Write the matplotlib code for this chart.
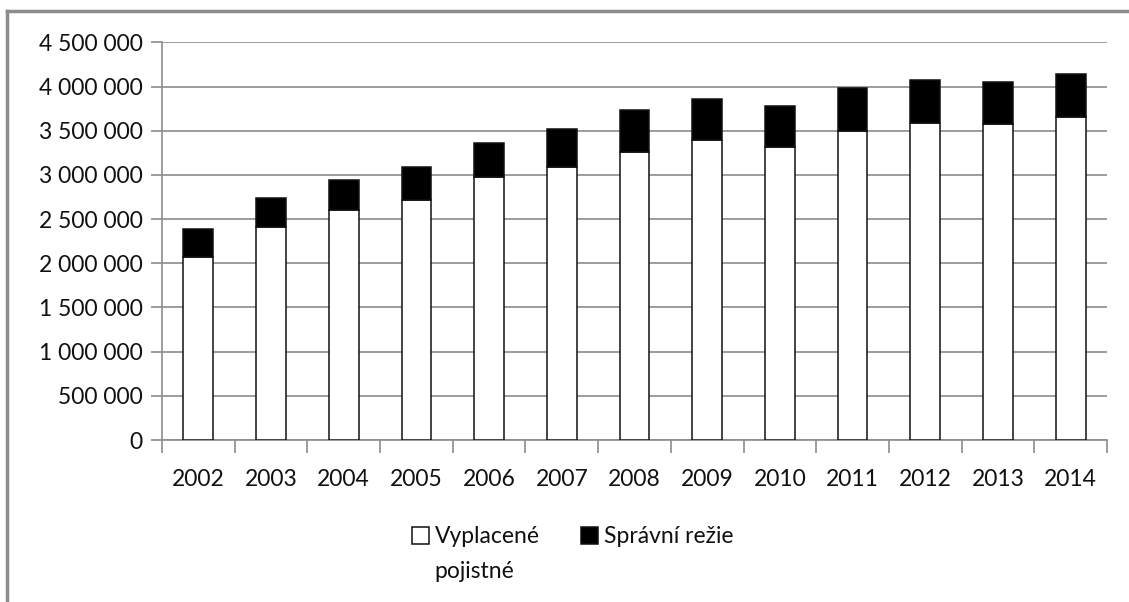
import matplotlib
matplotlib.use("Agg")
import matplotlib.pyplot as plt
from matplotlib.ticker import FuncFormatter, FixedLocator
from matplotlib.lines import Line2D
import numpy as np

# data
years = ["2002", "2003", "2004", "2005", "2006", "2007", "2008",
         "2009", "2010", "2011", "2012", "2013", "2014"]
vyplacene = [2069000, 2415000, 2601000, 2717000, 2977000, 3094000, 3260000,
             3395000, 3320000, 3501000, 3588000, 3573000, 3652000]
celkem = [2386000, 2743000, 2940000, 3090000, 3358000, 3523000, 3735000,
          3856000, 3783000, 3980000, 4070000, 4055000, 4145000]
rezie = [c - v for c, v in zip(celkem, vyplacene)]

plt.rcParams['font.family'] = ['Lato', 'DejaVu Sans']
fs = 16.5
tc = "#111111"

fig = plt.figure(figsize=(11.29, 6.02), dpi=100)
ax = fig.add_axes([0.1435, 0.2691, 0.837, 0.6606])

x = np.arange(len(years))
w = 0.41
ax.bar(x, vyplacene, w, color="white", edgecolor="#111111", linewidth=1.1,
       label="Vyplacené", zorder=3)
ax.bar(x, rezie, w, bottom=vyplacene, color="black", edgecolor="#111111",
       linewidth=1.1, label="Správní režie", zorder=3)

ax.set_xlim(-0.5, len(years) - 0.5)
ax.set_ylim(0, 4500000)
ax.set_yticks(np.arange(0, 4500001, 500000))
ax.yaxis.set_major_formatter(FuncFormatter(lambda v, p: f"{int(v):,}".replace(",", " ")))
ax.yaxis.grid(True, color="#8c8c8c", linewidth=1.2, zorder=0)

# category labels, ticks between categories
ax.set_xticks(x)
ax.set_xticklabels(years)
ax.tick_params(axis="x", length=0, labelsize=fs, pad=21, colors=tc)
ax.xaxis.set_minor_locator(FixedLocator(np.arange(-0.5, len(years), 1)))
ax.tick_params(axis="x", which="minor", length=9, width=1.2, color="#8c8c8c", direction="out")
ax.tick_params(axis="y", length=8, width=1.2, color="#8c8c8c", labelsize=fs, pad=6,
               labelcolor=tc)

for s in ["top", "right"]:
    ax.spines[s].set_visible(False)
for s in ["left", "bottom"]:
    ax.spines[s].set_color("#8c8c8c")
    ax.spines[s].set_linewidth(1.2)

leg = fig.legend(loc="upper center", bbox_to_anchor=(0.507, 0.16), ncol=2, frameon=False,
                 fontsize=fs, handlelength=0.75, handleheight=0.75, handletextpad=0.25,
                 columnspacing=1.8, labelcolor=tc)

# second line of the first legend label, under "Vyplacené"
fig.canvas.draw()
bb = leg.get_texts()[0].get_window_extent().transformed(fig.transFigure.inverted())
fig.text(bb.x0, bb.y0 - 0.022, "pojistné", fontsize=fs, color=tc, va="top", ha="left")

# outer chart border (left and top only visible)
fig.add_artist(Line2D([7 / 1129, 7 / 1129], [0, 1 - 11 / 602], color="#8c8c8c", linewidth=2.5))
fig.add_artist(Line2D([7 / 1129, 1], [1 - 11 / 602, 1 - 11 / 602], color="#8c8c8c", linewidth=2.5))

fig.savefig("out.png", dpi=100)
